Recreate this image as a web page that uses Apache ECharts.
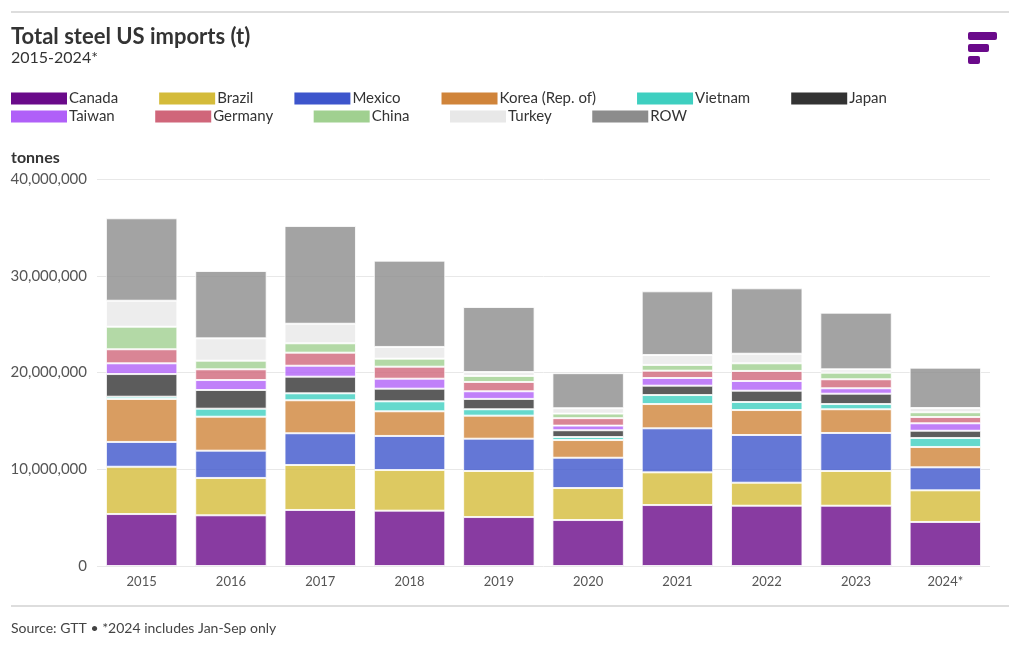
<!DOCTYPE html>
<html>
<head>
<meta charset="utf-8">
<script src="https://cdn.jsdelivr.net/npm/echarts@6/dist/echarts.min.js"></script>
<style>html,body{margin:0;padding:0;background:#fff}#c{width:1020px;height:650px}</style>
</head>
<body>
<div id="c"></div>
<script>
const categories = ['2015','2016','2017','2018','2019','2020','2021','2022','2023','2024*'];
const seriesNames = ['Canada','Brazil','Mexico','Korea (Rep. of)','Vietnam','Japan','Taiwan','Germany','China','Turkey','ROW'];
const seriesColors = ['#6a0a8a','#d4bb3a','#3d55cc','#d0843a','#3ecfc0','#333333','#b060f8','#d0667a','#a0d090','#e8e8e8','#8c8c8c'];
const canada  = [5.37,5.24,5.79,5.72,5.06,4.75,6.30,6.23,6.23,4.55];
const brazil  = [4.89,3.86,4.65,4.20,4.76,3.31,3.38,2.38,3.59,3.27];
const mexico  = [2.56,2.82,3.28,3.52,3.34,3.13,4.55,4.93,3.93,2.38];
const korea   = [4.44,3.51,3.41,2.55,2.38,1.83,2.51,2.58,2.45,2.10];
const vietnam = [0.24,0.83,0.72,1.03,0.66,0.31,0.93,0.83,0.54,0.93];
const japan   = [2.34,1.93,1.72,1.31,1.07,0.70,0.97,1.17,1.07,0.75];
const taiwan  = [1.11,1.03,1.13,1.03,0.79,0.48,0.79,1.00,0.56,0.77];
const germany = [1.45,1.11,1.35,1.24,0.96,0.77,0.76,1.04,0.93,0.65];
const china   = [2.33,0.89,0.97,0.83,0.62,0.47,0.59,0.79,0.68,0.49];
const turkey  = [2.69,2.31,2.02,1.21,0.41,0.56,1.03,0.99,0.35,0.44];
const row     = [8.52,6.96,10.10,8.92,6.72,3.62,6.58,6.76,5.85,4.17];
const yTicks = [0,10000000,20000000,30000000,40000000];
const seriesValues = [canada,brazil,mexico,korea,vietnam,japan,taiwan,germany,china,turkey,row];

const FONT = 'Lato, "Open Sans", sans-serif';
const legendBase = {
  left:11, padding:0,
  itemWidth:56, itemHeight:12,
  icon:'rect',
  itemStyle:{opacity:1, borderWidth:0},
  textStyle:{fontFamily:FONT,fontSize:15,color:'#333',padding:[0,0,0,-3]}
};
const chart = echarts.init(document.getElementById('c'));
chart.setOption({
  animation:false,
  textStyle:{fontFamily:FONT},
  title:[
    {text:'Total steel US imports (t)', left:11, top:26, padding:0, textStyle:{fontFamily:FONT,fontSize:22,fontWeight:'bold',color:'#333'}},
    {text:'2015-2024*', left:11, top:50, padding:0, textStyle:{fontFamily:FONT,fontSize:16,fontWeight:'normal',color:'#333'}},
    {text:'tonnes', left:11, top:150, padding:0, textStyle:{fontFamily:FONT,fontSize:16,fontWeight:'bold',color:'#333'}},
    {text:'Source: GTT \u2022 *2024 includes Jan-Sep only', left:11, top:621, padding:0, textStyle:{fontFamily:FONT,fontSize:14,fontWeight:'normal',color:'#444'}}
  ],
  graphic:[
    {type:'line', shape:{x1:11,y1:12,x2:1009,y2:12}, style:{stroke:'#dddddd',lineWidth:2}},
    {type:'line', shape:{x1:11,y1:606,x2:1009,y2:606}, style:{stroke:'#dddddd',lineWidth:2}},
    {type:'rect', shape:{x:968,y:32,width:29,height:8,r:2}, style:{fill:'#6a0a8a'}},
    {type:'rect', shape:{x:968,y:44,width:21,height:8,r:2}, style:{fill:'#6a0a8a'}},
    {type:'rect', shape:{x:968,y:56,width:12,height:8,r:2}, style:{fill:'#6a0a8a'}}
  ],
  legend:[
    Object.assign({}, legendBase, {top:91, itemGap:41, data:seriesNames.slice(0,6)}),
    Object.assign({}, legendBase, {top:109, itemGap:40.5, data:seriesNames.slice(6)})
  ],
  grid:{left:97, right:30, top:179, bottom:84},
  xAxis:{
    type:'category', data:categories,
    axisLine:{show:false}, axisTick:{show:false},
    axisLabel:{color:'#555',fontSize:13,margin:9,fontFamily:FONT}
  },
  yAxis:{
    type:'value', min:0, max:40000000, interval:10000000,
    axisLine:{show:false}, axisTick:{show:false},
    splitLine:{lineStyle:{color:'#e8e8e8'}},
    axisLabel:{color:'#555',fontSize:15,margin:10,fontFamily:FONT,
      formatter:v=>yTicks.includes(v)?v.toLocaleString('en-US'):''}
  },
  series: seriesNames.map((n,i)=>({
    name:n, type:'bar', stack:'total', barCategoryGap:'20%',
    data: seriesValues[i].map(v=>Math.round(v*1e6)),
    itemStyle:{color:seriesColors[i], opacity:0.8, borderColor:'#fff', borderWidth:1},
    emphasis:{disabled:true}
  }))
});
</script>
</body>
</html>
